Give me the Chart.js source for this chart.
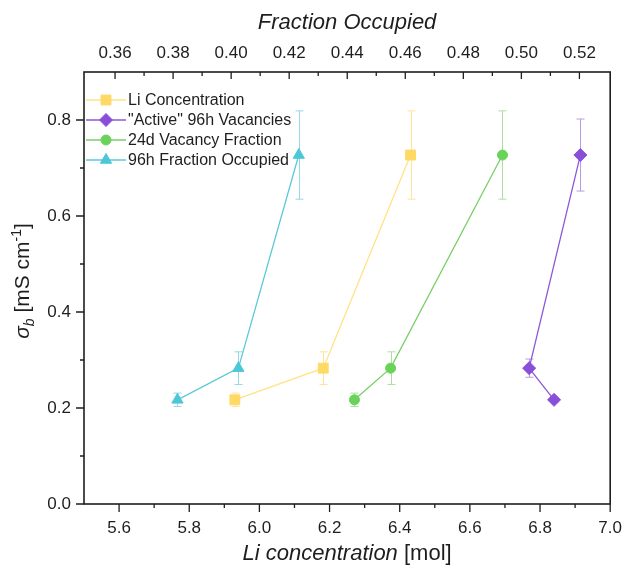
<!DOCTYPE html>
<html>
<head>
<meta charset="utf-8">
<script src="https://cdn.jsdelivr.net/npm/chart.js@4/dist/chart.umd.min.js"></script>
<style>
  html,body{margin:0;padding:0;background:#fff;}
  #wrap{width:636px;height:571px;}
</style>
</head>
<body>
<div id="wrap"><canvas id="c" width="636" height="571"></canvas></div>
<script>
// data
const sigma = [0.217, 0.283, 0.727];            // sigma_b values, shared by every series
const sigmaErr = [0.014, 0.034, 0.092];
const liConc = [5.930, 6.182, 6.431];           // Li Concentration (bottom axis)
const activeVac = [6.840, 6.769, 6.915];        // "Active" 96h Vacancies (bottom axis)
const activeSigma = [0.217, 0.283, 0.727];
const activeErr = [0.005, 0.019, 0.075];
const vac24d = [6.271, 6.374, 6.693];           // 24d Vacancy Fraction (bottom axis)
const frac96h = [0.3815, 0.4025, 0.4233];       // 96h Fraction Occupied (top axis)

const xTicks = [5.6, 5.8, 6.0, 6.2, 6.4, 6.6, 6.8, 7.0];
const xMinor = [5.7, 5.9, 6.1, 6.3, 6.5, 6.7, 6.9];
const topTicks = [0.36, 0.38, 0.40, 0.42, 0.44, 0.46, 0.48, 0.50, 0.52];
const topMinor = [0.37, 0.39, 0.41, 0.43, 0.45, 0.47, 0.49, 0.51];
const yTicks = [0.0, 0.2, 0.4, 0.6, 0.8];
const yMinor = [0.1, 0.3, 0.5, 0.7];

const FONT = '"Liberation Sans", Arial, Helvetica, sans-serif';
const INK = '#1e1e1e';

function pts(xs, ys){ return xs.map((x,i)=>({x:x, y:ys[i]})); }

const datasets = [
  { label:'Li Concentration', data: pts(liConc, sigma), err: sigmaErr, errColor:'#FFE597',
    borderColor:'#FFE384', backgroundColor:'#FFD966', pointBorderColor:'#FFD966',
    pointStyle:'rect', pointRadius:7 },
  { label:'"Active" 96h Vacancies', data: pts(activeVac, activeSigma), err: activeErr, errColor:'#B99AE8',
    borderColor:'#8D57D8', backgroundColor:'#8A4FD8', pointBorderColor:'#8A4FD8',
    pointStyle:'rectRot', pointRadius:6.5 },
  { label:'24d Vacancy Fraction', data: pts(vac24d, sigma), err: sigmaErr, errColor:'#ADDFA3',
    borderColor:'#78CF67', backgroundColor:'#69D359', pointBorderColor:'#69D359',
    pointStyle:'circle', pointRadius:5 },
  { label:'96h Fraction Occupied', data: pts(frac96h, sigma), err: sigmaErr, errColor:'#93DAE4', xAxisID:'x2',
    borderColor:'#5BC9D9', backgroundColor:'#4CC7D8', pointBorderColor:'#4CC7D8',
    pointStyle:'triangle', pointRadius:6.5 }
];
datasets.forEach(d=>{ d.borderWidth = 1.3; d.pointBorderWidth = 1; d.showLine = true; d.fill = false; d.tension = 0; });

// error bars, drawn behind the markers
const errorBars = {
  id:'errorBars',
  beforeDatasetsDraw(chart){
    const ctx = chart.ctx, ys = chart.scales.y;
    chart.data.datasets.forEach((ds, i)=>{
      const meta = chart.getDatasetMeta(i);
      ctx.save(); ctx.strokeStyle = ds.errColor; ctx.lineWidth = 1;
      meta.data.forEach((el, j)=>{
        const v = ds.data[j].y, e = ds.err[j];
        const x = Math.round(el.x) + 0.5;
        const y1 = ys.getPixelForValue(v + e), y2 = ys.getPixelForValue(v - e);
        ctx.beginPath();
        ctx.moveTo(x, y1); ctx.lineTo(x, y2);
        ctx.moveTo(x-4, y1); ctx.lineTo(x+4, y1);
        ctx.moveTo(x-4, y2); ctx.lineTo(x+4, y2);
        ctx.stroke();
      });
      ctx.restore();
    });
  }
};

// frame, tick marks, axis titles, legend
const decor = {
  id:'decor',
  afterDraw(chart){
    const ctx = chart.ctx, a = chart.chartArea;
    const sx = chart.scales.x, s2 = chart.scales.x2, sy = chart.scales.y;
    ctx.save();
    ctx.strokeStyle = INK; ctx.lineWidth = 1.6;
    ctx.strokeRect(a.left, a.top, a.right - a.left, a.bottom - a.top);

    ctx.lineWidth = 1.3;
    ctx.beginPath();
    xTicks.forEach(v=>{ const p = sx.getPixelForValue(v); ctx.moveTo(p, a.bottom); ctx.lineTo(p, a.bottom+8); });
    xMinor.forEach(v=>{ const p = sx.getPixelForValue(v); ctx.moveTo(p, a.bottom); ctx.lineTo(p, a.bottom+4); });
    topTicks.forEach(v=>{ const p = s2.getPixelForValue(v); ctx.moveTo(p, a.top); ctx.lineTo(p, a.top+7); });
    topMinor.forEach(v=>{ const p = s2.getPixelForValue(v); ctx.moveTo(p, a.top); ctx.lineTo(p, a.top+4); });
    yTicks.forEach(v=>{ const p = sy.getPixelForValue(v); ctx.moveTo(a.left-8, p); ctx.lineTo(a.left, p); });
    yMinor.forEach(v=>{ const p = sy.getPixelForValue(v); ctx.moveTo(a.left-4, p); ctx.lineTo(a.left, p); });
    ctx.stroke();

    // titles
    const cx = (a.left + a.right) / 2;
    ctx.fillStyle = INK; ctx.textBaseline = 'alphabetic'; ctx.textAlign = 'left';
    ctx.font = 'italic 22px ' + FONT;
    let w = ctx.measureText('Fraction Occupied').width;
    ctx.fillText('Fraction Occupied', cx - w/2, 29);

    const it = 'italic 22px ' + FONT, rg = '22px ' + FONT;
    ctx.font = it; const w1 = ctx.measureText('Li concentration').width;
    ctx.font = rg; const w2 = ctx.measureText(' [mol]').width;
    let x0 = cx - (w1 + w2)/2;
    ctx.font = it; ctx.fillText('Li concentration', x0, 560);
    ctx.font = rg; ctx.fillText(' [mol]', x0 + w1, 560);

    // y title: sigma_b [mS cm^-1]
    const parts = [
      {t:'σ', f:'italic 21px ' + FONT, dy:0},
      {t:'b', f:'italic 14px ' + FONT, dy:5},
      {t:' [mS cm', f:'21px ' + FONT, dy:0},
      {t:'-1', f:'14px ' + FONT, dy:-8},
      {t:']', f:'21px ' + FONT, dy:0}
    ];
    let tw = 0;
    parts.forEach(p=>{ ctx.font = p.f; p.w = ctx.measureText(p.t).width; tw += p.w; });
    ctx.save();
    ctx.translate(29, 281);
    ctx.rotate(-Math.PI/2);
    let px = -tw/2;
    parts.forEach(p=>{ ctx.font = p.f; ctx.fillText(p.t, px, p.dy); px += p.w; });
    ctx.restore();

    // legend
    chart.data.datasets.forEach((ds, i)=>{
      const y = 100 + i*20;
      ctx.strokeStyle = ds.borderColor; ctx.lineWidth = 1.3;
      ctx.beginPath(); ctx.moveTo(86, y); ctx.lineTo(126, y); ctx.stroke();
      ctx.fillStyle = ds.backgroundColor; ctx.strokeStyle = ds.pointBorderColor; ctx.lineWidth = 1;
      Chart.helpers.drawPoint(ctx, { pointStyle: ds.pointStyle, radius: ds.pointRadius, rotation: 0, borderWidth: 1 }, 106, y);
      ctx.fillStyle = INK; ctx.font = '16px ' + FONT; ctx.textBaseline = 'middle';
      ctx.fillText(ds.label, 128, y + 1);
      ctx.textBaseline = 'alphabetic';
    });
    ctx.restore();
  }
};

const tickFont = { family: FONT, size: 17 };

new Chart(document.getElementById('c'), {
  type: 'line',
  data: { datasets },
  options: {
    responsive: false, animation: false, devicePixelRatio: 1,
    layout: { padding: { left: 0, right: 15, top: 0, bottom: 0 } },
    plugins: { legend: { display: false }, tooltip: { enabled: false } },
    scales: {
      x: { type:'linear', position:'bottom', min:5.5, max:7.0,
        grid:{ display:false, drawTicks:false }, border:{ display:false },
        ticks:{ font: tickFont, color: INK, padding: 14, callback: v=>v.toFixed(1) },
        afterBuildTicks: s=>{ s.ticks = xTicks.map(v=>({value:v})); },
        afterFit: s=>{ s.height = 67; } },
      x2: { type:'linear', position:'top', min:0.3493, max:0.5306,
        grid:{ display:false, drawTicks:false }, border:{ display:false },
        ticks:{ font: tickFont, color: INK, padding: 8, callback: v=>v.toFixed(2) },
        afterBuildTicks: s=>{ s.ticks = topTicks.map(v=>({value:v})); },
        afterFit: s=>{ s.height = 72; } },
      y: { type:'linear', position:'left', min:0, max:0.9,
        grid:{ display:false, drawTicks:false }, border:{ display:false },
        ticks:{ font: tickFont, color: INK, padding: 13, callback: v=>v.toFixed(1) },
        afterBuildTicks: s=>{ s.ticks = yTicks.map(v=>({value:v})); },
        afterFit: s=>{ s.width = 84; } }
    }
  },
  plugins: [errorBars, decor]
});
</script>
</body>
</html>
